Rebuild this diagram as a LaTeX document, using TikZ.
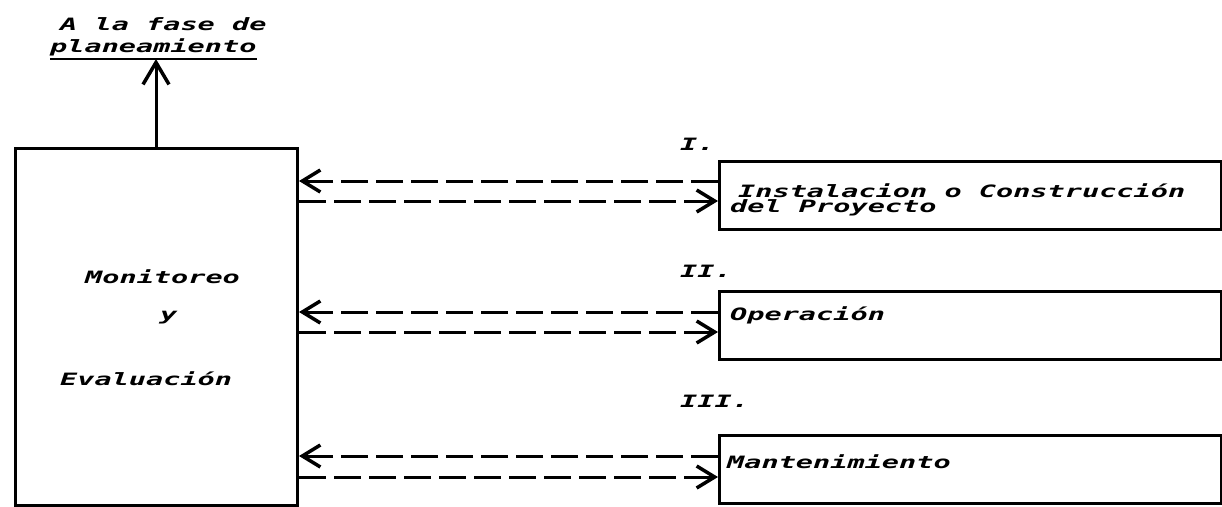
\documentclass[tikz,border=0pt]{standalone}
\usepackage{fontspec}
\usetikzlibrary{arrows.meta}
\newfontfamily\pxfont{DejaVu Sans Mono}[FakeStretch=1.68]
\begin{document}
\begin{tikzpicture}[x=1pt,y=-1pt,
  lbl/.style={font=\pxfont\bfseries\itshape\fontsize{17}{15}\selectfont, inner sep=0pt, anchor=base west},
  stage/.style={draw, line width=3pt, minimum width=502pt, minimum height=68pt, anchor=north west, inner sep=0pt},
  tip/.style={-{Straight Barb[length=18pt,width=22pt,line width=3.5pt]}},
  flow/.style={line width=3pt, dash pattern=on 27pt off 8pt, tip},
  solidarrow/.style={line width=3pt, -{Straight Barb[length=22pt,width=26pt,line width=3.5pt]}}]
\useasboundingbox (0,0) rectangle (1222,506);

% heading above the main box
\node[lbl] (t1) at (60,30) {A la fase de};
\node[lbl] (t2) at (50,52) {planeamiento};
\draw[line width=2.5pt] ([yshift=-7pt]t2.base west) -- ([yshift=-7pt]t2.base east);

% main box
\node[draw, line width=3pt, minimum width=282pt, minimum height=357pt, anchor=north west, inner sep=0pt] (me) at (14,146.5) {};
\node[lbl] (m1) at (85,283) {Monitoreo};
\node[lbl] (m2) at (160,320) {y};
\node[lbl] (m3) at (60,385) {Evaluación};

\draw[solidarrow] (me.north -| 156,0) -- ([yshift=-7pt]t2.base -| 156,0);

% stage boxes
\node[stage] (s1) at (718,160) {};
\node[stage] (s2) at (718,290) {};
\node[stage] (s3) at (718,434) {};

\node[lbl] (n1) at (680,150) {I.};
\node[lbl] (n2) at (680,277) {II.};
\node[lbl] (n3) at (680,407) {III.};

\node[lbl, align=left] (s1a) at (730,212) {\hspace{8pt}Instalacion o Construcción\\del Proyecto};
\node[lbl] (s2a) at (730,320) {Operación};
\node[lbl] (s3a) at (727,468) {Mantenimiento};

% two-way dashed links
\draw[flow] (s1.west |- 0,181) -- (me.east |- 0,181);
\draw[flow] (me.east |- 0,201) -- (s1.west |- 0,201);
\draw[flow] (s2.west |- 0,312) -- (me.east |- 0,312);
\draw[flow] (me.east |- 0,332) -- (s2.west |- 0,332);
\draw[flow] (s3.west |- 0,456) -- (me.east |- 0,456);
\draw[flow] (me.east |- 0,477) -- (s3.west |- 0,477);
\end{tikzpicture}
\end{document}
